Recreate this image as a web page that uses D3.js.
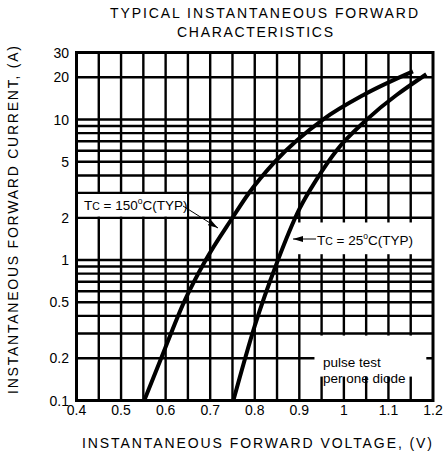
<!DOCTYPE html>
<html>
<head>
<meta charset="utf-8">
<script src="https://cdn.jsdelivr.net/npm/d3@7"></script>
<style>
  html, body { margin: 0; padding: 0; background: #fff; }
  svg { display: block; font-family: "Liberation Sans", Arial, sans-serif; }
</style>
</head>
<body>
<svg id="chart" width="443" height="460"></svg>
<script>
// ---- data ----
const xTicks = [0.4, 0.5, 0.6, 0.7, 0.8, 0.9, 1.0, 1.1, 1.2];
const xTickLabels = ["0.4", "0.5", "0.6", "0.7", "0.8", "0.9", "1", "1.1", "1.2"];
const yTicks = [30, 20, 10, 5, 2, 1, 0.5, 0.2, 0.1];
const yTickLabels = ["30", "20", "10", "5", "2", "1", "0.5", "0.2", "0.1"];
const xGrid = [0.45, 0.5, 0.55, 0.6, 0.65, 0.7, 0.75, 0.8, 0.85, 0.9, 0.95, 1.0, 1.05, 1.1, 1.15];
const yGrid = [0.2, 0.3, 0.4, 0.5, 0.6, 0.7, 0.8, 0.9, 1, 2, 3, 4, 5, 6, 7, 8, 9, 10, 20];

// Tc = 150°C (TYP)
const v150 = [0.552, 0.59, 0.641, 0.69, 0.75, 0.787, 0.845, 0.953, 1.043, 1.155];
const i150 = [0.1, 0.2, 0.5, 1.0, 2.0, 3.0, 5.0, 10.0, 14.9, 22.0];
// Tc = 25°C (TYP)
const v25 = [0.752, 0.80, 0.85, 0.90, 0.94, 0.985, 1.05, 1.185];
const i25 = [0.1, 0.34, 0.96, 2.3, 3.8, 6.1, 9.9, 21.0];

const titleLines = ["TYPICAL INSTANTANEOUS FORWARD", "CHARACTERISTICS"];
const xTitle = "INSTANTANEOUS FORWARD VOLTAGE, (V)";
const yTitle = "INSTANTANEOUS FORWARD CURRENT, (A)";

// ---- layout ----
const svg = d3.select("#chart");
const x = d3.scaleLinear().domain([0.4, 1.2]).range([76.5, 433]);
const y = d3.scaleLog().domain([0.1, 30]).range([400.5, 52.5]);

// grid
const g = svg.append("g");
g.selectAll("line.vg").data(xGrid).enter().append("line")
  .attr("x1", d => x(d)).attr("x2", d => x(d))
  .attr("y1", y(30)).attr("y2", y(0.1))
  .attr("stroke", "#000").attr("stroke-width", 2.4);
g.selectAll("line.hg").data(yGrid).enter().append("line")
  .attr("x1", x(0.4)).attr("x2", x(1.2))
  .attr("y1", d => y(d)).attr("y2", d => y(d))
  .attr("stroke", "#000").attr("stroke-width", 2.4);

// white label boxes
const boxes = [
  {x0: 0.4, x1: 0.648, y0: 2.95, y1: 2.04},
  {x0: 0.896, x1: 1.165, y0: 1.85, y1: 1.1},
  {x0: 0.934, x1: 1.185, y0: 0.29, y1: 0.148}
];
g.selectAll("rect.box").data(boxes).enter().append("rect")
  .attr("x", d => x(d.x0)).attr("y", d => y(d.y0))
  .attr("width", d => x(d.x1) - x(d.x0)).attr("height", d => y(d.y1) - y(d.y0))
  .attr("fill", "#fff");

// curves
const line = d3.line().x(d => x(d[0])).y(d => y(d[1])).curve(d3.curveMonotoneX);
const c150 = v150.map((v, k) => [v, i150[k]]);
const c25 = v25.map((v, k) => [v, i25[k]]);
[c150, c25].forEach(c => {
  svg.append("path").attr("d", line(c)).attr("fill", "none")
    .attr("stroke", "#000").attr("stroke-width", 4).attr("stroke-linecap", "butt");
});

// border
svg.append("rect").attr("x", x(0.4)).attr("y", y(30))
  .attr("width", x(1.2) - x(0.4)).attr("height", y(0.1) - y(30))
  .attr("fill", "none").attr("stroke", "#000").attr("stroke-width", 3);

// tick labels
svg.selectAll("text.xt").data(xTicks).enter().append("text")
  .attr("x", d => x(d)).attr("y", 415)
  .attr("text-anchor", "middle").attr("font-size", 14)
  .text((d, k) => xTickLabels[k]);
svg.selectAll("text.yt").data(yTicks).enter().append("text")
  .attr("x", 69).attr("y", d => y(d) + 5)
  .attr("text-anchor", "end").attr("font-size", 14)
  .text((d, k) => yTickLabels[k]);

// titles
svg.append("text").attr("x", 110).attr("y", 18).attr("font-size", 14)
  .attr("textLength", 308).attr("lengthAdjust", "spacing").text(titleLines[0]);
svg.append("text").attr("x", 177).attr("y", 37).attr("font-size", 14)
  .attr("textLength", 156).attr("lengthAdjust", "spacing").text(titleLines[1]);
svg.append("text").attr("x", 82).attr("y", 448).attr("font-size", 14)
  .attr("textLength", 350).attr("lengthAdjust", "spacing").text(xTitle);
svg.append("text").attr("transform", "translate(18,394) rotate(-90)").attr("font-size", 14)
  .attr("textLength", 348).attr("lengthAdjust", "spacing").text(yTitle);

// markers
const defs = svg.append("defs");
defs.append("marker").attr("id", "ah").attr("viewBox", "0 0 10 6")
  .attr("refX", 10).attr("refY", 3).attr("markerWidth", 10).attr("markerHeight", 6)
  .attr("markerUnits", "userSpaceOnUse").attr("orient", "auto")
  .append("path").attr("d", "M0,0 L10,3 L0,6 Z").attr("fill", "#000");

function tcLabel(tx, ty, temp) {
  const t = svg.append("text").attr("x", tx).attr("y", ty).attr("font-size", 13.5);
  t.append("tspan").text("T");
  t.append("tspan").attr("font-size", 10.5).text("C");
  t.append("tspan").text(" = " + temp);
  t.append("tspan").attr("font-size", 8.5).attr("dy", -6).text("o");
  t.append("tspan").attr("dy", 6).text("C(TYP)");
  return t;
}
tcLabel(84, 210, "150");
svg.append("line").attr("x1", 183).attr("y1", 206).attr("x2", 218).attr("y2", 228)
  .attr("stroke", "#000").attr("stroke-width", 1).attr("marker-end", "url(#ah)");

tcLabel(317, 245, "25");
svg.append("line").attr("x1", 316).attr("y1", 239).attr("x2", 293).attr("y2", 239)
  .attr("stroke", "#000").attr("stroke-width", 1).attr("marker-end", "url(#ah)");

// pulse test note
svg.append("text").attr("x", 323).attr("y", 367).attr("font-size", 13.5).text("pulse test");
svg.append("text").attr("x", 323).attr("y", 383).attr("font-size", 13.5).text("per one diode");
</script>
</body>
</html>
